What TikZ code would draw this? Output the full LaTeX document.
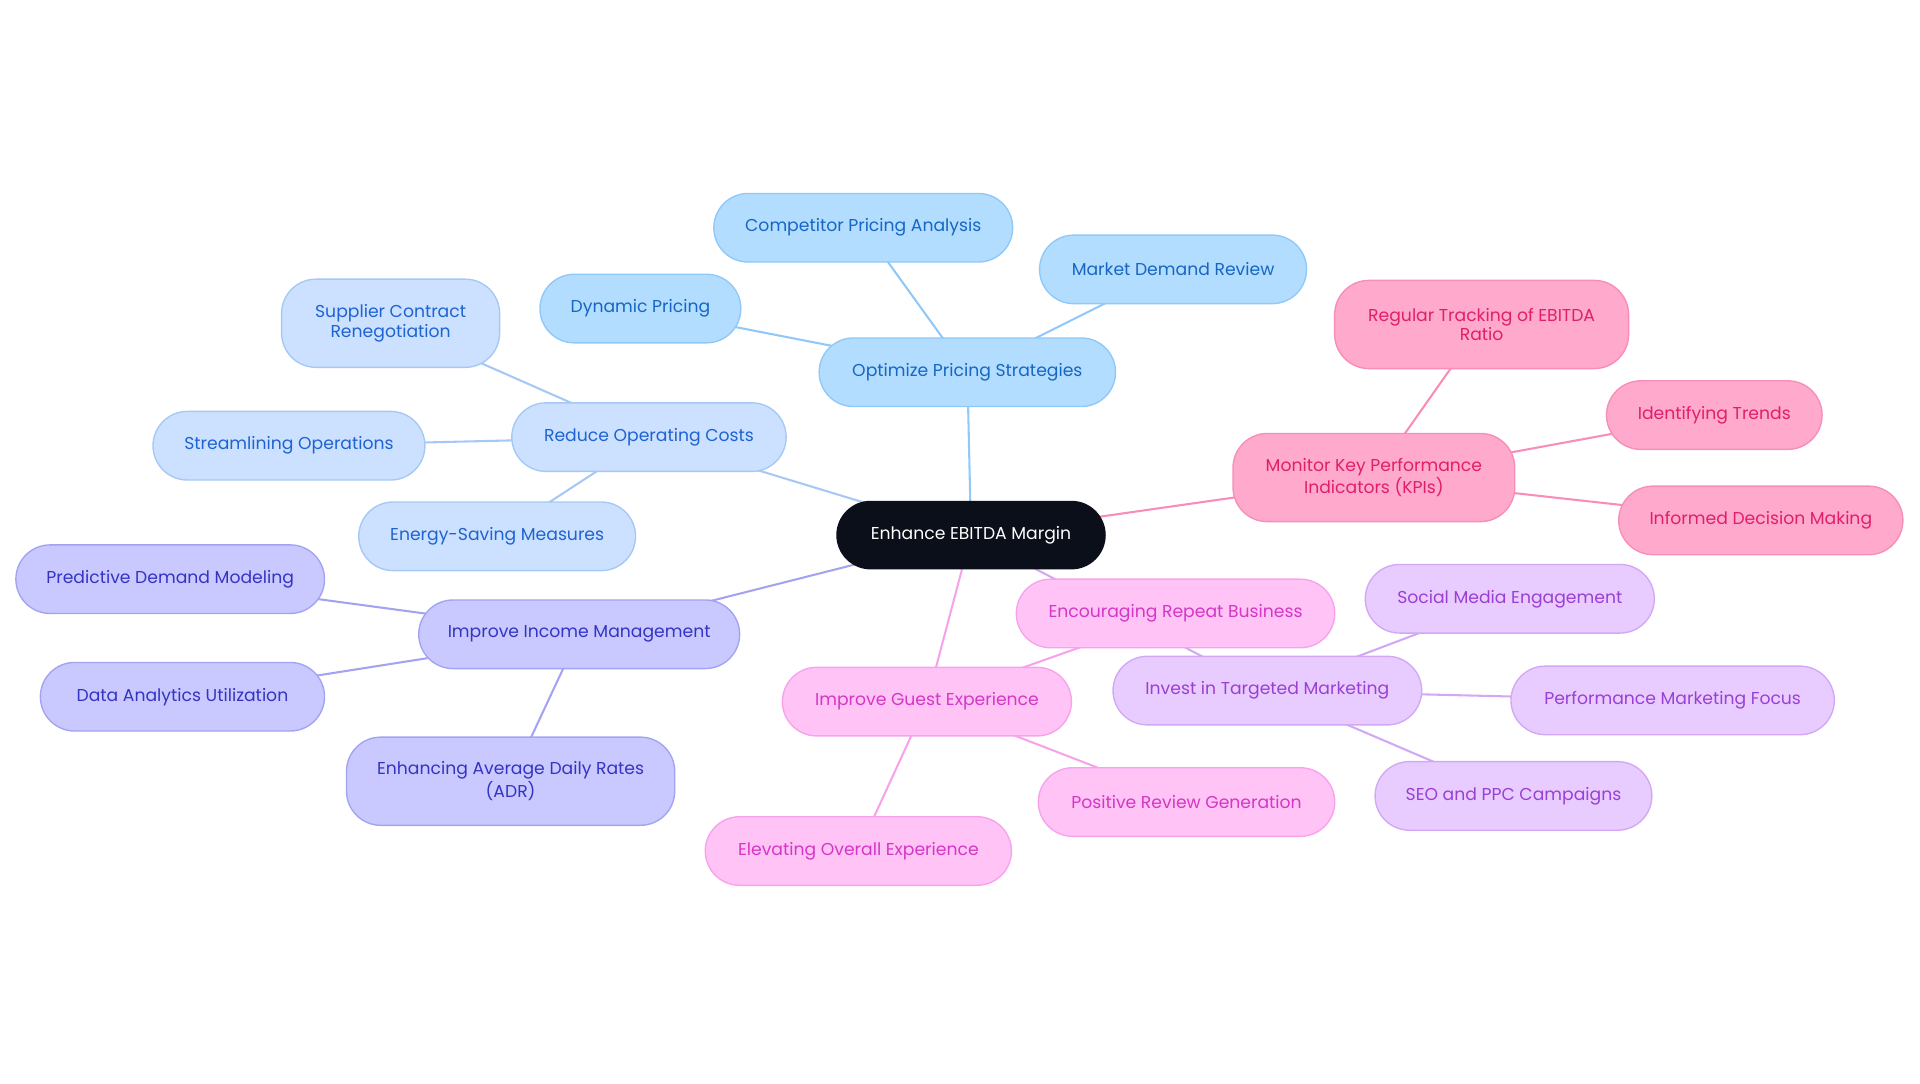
\documentclass[tikz,border=0pt]{standalone}
\usepackage{fontspec}
\setmainfont{Poppins}
\usetikzlibrary{backgrounds}
\definecolor{bluefill}{HTML}{B3DDFF}\definecolor{blueline}{HTML}{90C8F8}\definecolor{bluetext}{HTML}{1766C2}
\definecolor{lbfill}{HTML}{CCE1FF}\definecolor{lbline}{HTML}{A6C8F5}\definecolor{lbtext}{HTML}{1E63D2}
\definecolor{pufill}{HTML}{C9C9FF}\definecolor{puline}{HTML}{A3A3F2}\definecolor{putext}{HTML}{3434C4}
\definecolor{pkfill}{HTML}{FFC3F6}\definecolor{pkline}{HTML}{F7A3EC}\definecolor{pktext}{HTML}{D436C6}
\definecolor{lvfill}{HTML}{E9CCFF}\definecolor{lvline}{HTML}{D2A8F5}\definecolor{lvtext}{HTML}{9A3FD4}
\definecolor{kpfill}{HTML}{FFA9CD}\definecolor{kpline}{HTML}{F78DB8}\definecolor{kptext}{HTML}{E01F6B}
\definecolor{centerfill}{HTML}{0B0F1A}
\tikzset{
  box/.style={rounded corners=0.7cm, minimum height=1.4cm, inner xsep=0.4cm, align=center,
    font=\fontsize{10}{9.5}\selectfont, line width=0.8pt},
  bluebox/.style={box, fill=bluefill, draw=blueline, text=bluetext},
  lbbox/.style={box, fill=lbfill, draw=lbline, text=lbtext},
  pubox/.style={box, fill=pufill, draw=puline, text=putext},
  pkbox/.style={box, fill=pkfill, draw=pkline, text=pktext},
  lvbox/.style={box, fill=lvfill, draw=lvline, text=lvtext},
  kpbox/.style={box, fill=kpfill, draw=kpline, text=kptext},
  twoline/.style={minimum height=1.8cm},
  link/.style={line width=1.2pt}
}
\begin{document}
\begin{tikzpicture}[x=0.025cm, y=-0.025cm]
\useasboundingbox (0,0) rectangle (1568,885);
% root
\node[box, fill=centerfill, text=white, minimum width=5.5cm] (root) at (793,437) {Enhance EBITDA Margin};
% pricing
\node[bluebox, minimum width=6.05cm] (pricing) at (790,304) {Optimize Pricing Strategies};
\node[bluebox, minimum width=6.1cm] (competitor) at (705,186) {Competitor Pricing Analysis};
\node[bluebox, minimum width=5.45cm] (demand) at (958,220) {Market Demand Review};
\node[bluebox, minimum width=4.1cm] (dynamic) at (523,252) {Dynamic Pricing};
% costs
\node[lbbox, minimum width=5.6cm] (costs) at (530,357) {Reduce Operating Costs};
\node[lbbox, twoline, minimum width=4.45cm] (supplier) at (319,264) {Supplier Contract\\Renegotiation};
\node[lbbox, minimum width=5.55cm] (streamline) at (236,364) {Streamlining Operations};
\node[lbbox, minimum width=5.65cm] (energy) at (406,438) {Energy-Saving Measures};
% income
\node[pubox, minimum width=6.55cm] (income) at (473,518) {Improve Income Management};
\node[pubox, minimum width=6.3cm] (predictive) at (139,473) {Predictive Demand Modeling};
\node[pubox, minimum width=5.8cm] (analytics) at (149,569) {Data Analytics Utilization};
\node[pubox, twoline, minimum width=6.7cm] (adr) at (417,638) {Enhancing Average Daily Rates\\(ADR)};
% guest
\node[pkbox, minimum width=5.9cm] (guest) at (757,573) {Improve Guest Experience};
\node[pkbox, minimum width=6.5cm] (repeat) at (960,501) {Encouraging Repeat Business};
\node[pkbox, minimum width=6.25cm] (elevating) at (701,695) {Elevating Overall Experience};
\node[pkbox, minimum width=6.05cm] (review) at (969,655) {Positive Review Generation};
% marketing
\node[lvbox, minimum width=6.3cm] (marketing) at (1035,564) {Invest in Targeted Marketing};
\node[lvbox, minimum width=5.9cm] (social) at (1233,489) {Social Media Engagement};
\node[lvbox, minimum width=6.6cm] (performance) at (1366,572) {Performance Marketing Focus};
\node[lvbox, minimum width=5.65cm] (seo) at (1236,650) {SEO and PPC Campaigns};
% kpis
\node[kpbox, twoline, minimum width=5.75cm] (kpi) at (1122,390) {Monitor Key Performance\\Indicators (KPIs)};
\node[kpbox, twoline, minimum width=6cm] (tracking) at (1210,265) {Regular Tracking of EBITDA\\Ratio};
\node[kpbox, minimum width=4.4cm] (trends) at (1400,339) {Identifying Trends};
\node[kpbox, minimum width=5.8cm] (informed) at (1438,425) {Informed Decision Making};
% links behind the boxes
\begin{scope}[on background layer]
\path[link, draw=blueline] (root.center) -- (pricing.center)
  (pricing.center) -- (competitor.center) (pricing.center) -- (demand.center) (pricing.center) -- (dynamic.center);
\path[link, draw=lbline] (root.center) -- (costs.center)
  (costs.center) -- (supplier.center) (costs.center) -- (streamline.center) (costs.center) -- (energy.center);
\path[link, draw=puline] (root.center) -- (income.center)
  (income.center) -- (predictive.center) (income.center) -- (analytics.center) (income.center) -- (adr.center);
\path[link, draw=pkline] (root.center) -- (guest.center)
  (guest.center) -- (repeat.center) (guest.center) -- (elevating.center) (guest.center) -- (review.center);
\path[link, draw=lvline] (root.center) -- (marketing.center)
  (marketing.center) -- (social.center) (marketing.center) -- (performance.center) (marketing.center) -- (seo.center);
\path[link, draw=kpline] (root.center) -- (kpi.center)
  (kpi.center) -- (tracking.center) (kpi.center) -- (trends.center) (kpi.center) -- (informed.center);
\end{scope}
\end{tikzpicture}
\end{document}
